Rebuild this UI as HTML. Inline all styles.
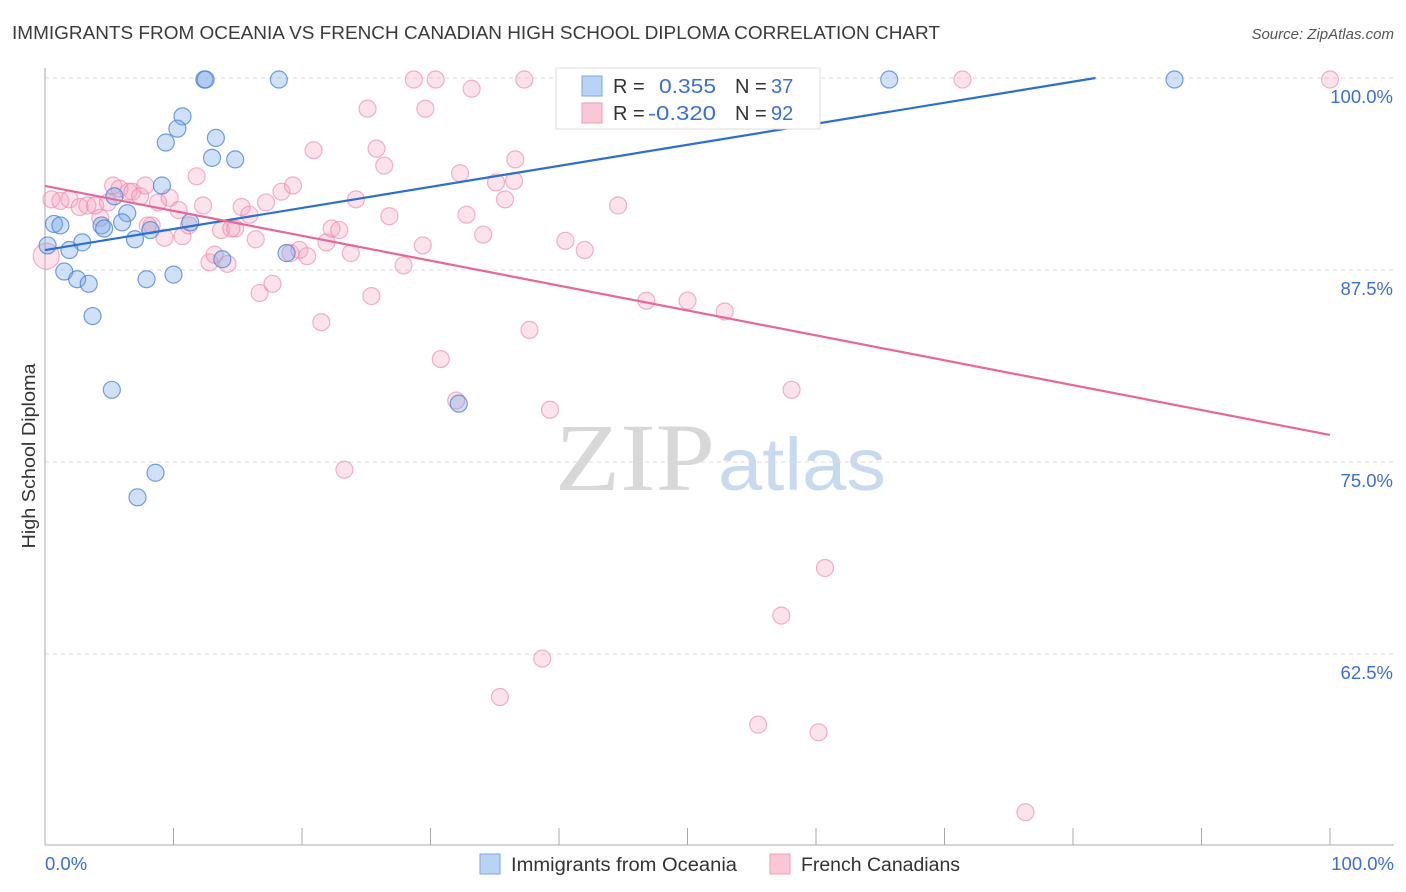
<!DOCTYPE html>
<html><head><meta charset="utf-8"><style>
body{margin:0;background:#fff;font-family:"Liberation Sans",sans-serif;}
</style></head><body>
<svg id="chart" width="1406" height="892" xmlns="http://www.w3.org/2000/svg" style="display:block">
<text x="12" y="39" font-size="18" fill="#3a3a3a" textLength="928" lengthAdjust="spacingAndGlyphs">IMMIGRANTS FROM OCEANIA VS FRENCH CANADIAN HIGH SCHOOL DIPLOMA CORRELATION CHART</text>
<text x="1394" y="39" font-size="15" fill="#555" font-style="italic" text-anchor="end">Source: ZipAtlas.com</text>
<text x="35" y="456" font-size="18" fill="#333" transform="rotate(-90 35 456)" text-anchor="middle" textLength="185" lengthAdjust="spacingAndGlyphs">High School Diploma</text>
<g>
<text x="555" y="490" font-size="96" fill="#d8d8d8" font-family="Liberation Serif,serif" textLength="160" lengthAdjust="spacingAndGlyphs">ZIP</text>
<text x="718" y="490" font-size="74" fill="#c8daf0" textLength="168" lengthAdjust="spacingAndGlyphs">atlas</text>
</g>
<g id="grid"></g>
<g id="axes"></g>
<g id="points"></g>
<g id="trends"></g>
<g>
<rect x="556" y="68" width="264" height="61" fill="#fff" stroke="#ddd"/>
<rect x="582" y="76" width="20" height="20" fill="#b9d3f5" stroke="#7aa6e6"/>
<text x="613" y="93" font-size="20" fill="#333">R = </text><text x="659" y="93" font-size="20" fill="#3a6fd8" textLength="57" lengthAdjust="spacingAndGlyphs">0.355</text>
<text x="735" y="93" font-size="20" fill="#333">N = </text><text x="771" y="93" font-size="20" fill="#3a6fd8">37</text>
<rect x="582" y="103" width="20" height="20" fill="#f9c7d6" stroke="#f0a0b8"/>
<text x="613" y="120" font-size="20" fill="#333">R = </text><text x="648" y="120" font-size="20" fill="#3a6fd8" textLength="68" lengthAdjust="spacingAndGlyphs">-0.320</text>
<text x="735" y="120" font-size="20" fill="#333">N = </text><text x="771" y="120" font-size="20" fill="#3a6fd8">92</text>
</g>
<g>
<rect x="480" y="854" width="20" height="20" fill="#b9d3f5" stroke="#7aa6e6"/>
<text x="511" y="871" font-size="19" fill="#333" textLength="226" lengthAdjust="spacingAndGlyphs">Immigrants from Oceania</text>
<rect x="770" y="854" width="20" height="20" fill="#f9c7d6" stroke="#f0a0b8"/>
<text x="801" y="871" font-size="19" fill="#333" textLength="159" lengthAdjust="spacingAndGlyphs">French Canadians</text>
</g>
</svg>
<script>
const yTicks=[100,87.5,75,62.5];
const yTickLabels=["100.0%","87.5%","75.0%","62.5%"];
const xTickLabels=["0.0%","100.0%"];
const blueX=[12.4,12.5,18.2,65.7,87.9,10.7,10.3,9.4,13.3,13.0,14.8,9.1,5.4,6.4,0.7,1.2,4.4,4.6,6.0,8.2,11.3,7.0,2.9,1.9,0.2,18.8,13.8,1.5,2.5,3.4,7.9,10.0,3.7,5.2,32.2,8.6,7.2];
const blueY=[99.9,99.9,99.9,99.9,99.9,97.5,96.7,95.8,96.1,94.8,94.7,93.0,92.3,91.2,90.5,90.4,90.4,90.2,90.6,90.1,90.6,89.5,89.3,88.8,89.1,88.6,88.2,87.4,86.9,86.6,86.9,87.2,84.5,79.7,78.8,74.3,72.7];
const pinkX=[0.1,0.5,1.2,1.9,2.7,3.3,3.9,4.3,4.9,5.3,5.8,6.5,6.8,7.4,7.8,8.3,8.8,9.3,9.7,10.4,10.7,11.2,11.8,12.3,12.8,13.2,13.7,14.2,14.8,15.3,15.9,16.4,16.7,17.2,17.7,18.4,19.3,19.1,19.8,20.4,20.9,21.5,21.9,22.3,22.9,23.3,23.8,24.2,25.1,25.4,25.8,26.4,26.8,27.9,28.7,29.4,29.6,30.4,30.8,32.0,32.3,32.8,34.1,35.1,33.2,35.4,35.8,36.5,36.6,37.3,37.7,38.7,39.3,40.5,42.0,44.6,46.8,47.9,48.4,50.0,52.9,55.5,57.3,58.1,60.2,60.7,71.4,76.3,100,8.0,14.5];
const pinkY=[88.4,92.1,92.0,92.1,91.6,91.7,91.7,90.9,91.9,93.0,92.8,92.6,92.6,92.3,93.0,90.4,91.9,89.6,92.2,91.4,89.7,90.4,93.6,91.7,88.0,88.5,90.1,87.9,90.2,91.6,91.1,89.5,86.0,91.9,86.6,92.6,93.0,88.6,88.8,88.4,95.3,84.1,89.3,90.2,90.1,74.5,88.6,92.1,98.0,85.8,95.4,94.3,91.0,87.8,99.9,89.1,98.0,99.9,81.7,79.0,93.8,91.1,89.8,93.2,99.3,59.7,92.1,93.3,94.7,99.9,83.6,62.2,78.4,89.4,88.8,91.7,85.5,99.9,99.9,85.5,84.8,57.9,65.0,79.7,57.4,68.1,99.9,52.2,99.9,90.4,90.2];
const blueTrend=[88.8,102.5];
const pinkTrend=[92.97,76.76];
const NS="http://www.w3.org/2000/svg";
const X0=45,X1=1330,Y100=78,PX_PER=192/12.5;
function sx(v){return X0+(X1-X0)*v/100;}
function sy(v){return Y100+(100-v)*PX_PER;}
function mk(tag,attrs,parent){const e=document.createElementNS(NS,tag);for(const k in attrs)e.setAttribute(k,attrs[k]);parent.appendChild(e);return e;}
const grid=document.getElementById('grid'),axes=document.getElementById('axes'),pts=document.getElementById('points'),tr=document.getElementById('trends');
yTicks.forEach((t,i)=>{
 const l=mk('line',{x1:45,x2:1394,y1:sy(t),y2:sy(t),stroke:'#ddd','stroke-dasharray':'4,4'},grid);
 
 
 const tx=mk('text',{x:1393,y:sy(t)+25,'font-size':18.5,fill:'#3a6fd8','text-anchor':'end'},axes);
 tx.textContent=yTickLabels[i];
 
 
});
const ax=mk('line',{x1:45,x2:45,y1:68,y2:845,stroke:'#aaa'},axes);


const bx=mk('line',{x1:45,x2:1394,y1:845,y2:845,stroke:'#aaa'},axes);


for(let i=0;i<=10;i++){
 const t=mk('line',{x1:sx(i*10),x2:sx(i*10),y1:828,y2:845,stroke:'#aaa'},axes);
 
 
}
[[0,'start',45],[100,'end',1394]].forEach((d,i)=>{
 const tx=mk('text',{x:d[2],y:870,'font-size':18.5,fill:'#3a6fd8','text-anchor':d[1]},axes);
 tx.textContent=xTickLabels[i];
 
 
});
pinkX.forEach((x,i)=>{
 const c=mk('circle',{cx:sx(x),cy:sy(pinkY[i]),r:i===0?13:8.5,fill:'rgba(245,160,190,0.3)',stroke:'rgba(235,130,165,0.6)','stroke-width':1.2},pts);
 
 
});
blueX.forEach((x,i)=>{
 const c=mk('circle',{cx:sx(x),cy:sy(blueY[i]),r:8.5,fill:'rgba(120,165,230,0.35)',stroke:'rgba(70,130,215,0.75)','stroke-width':1.2},pts);
 
 
});
const bxEnd=(100-blueTrend[0])/(blueTrend[1]-blueTrend[0])*100;
const bl=mk('line',{x1:sx(0),y1:sy(blueTrend[0]),x2:sx(bxEnd),y2:sy(100),stroke:'#2a6fd6','stroke-width':2.2},tr);


const pl=mk('line',{x1:sx(0),y1:sy(pinkTrend[0]),x2:sx(100),y2:sy(pinkTrend[1]),stroke:'#e8679a','stroke-width':2.2},tr);


</script>
</body></html>
